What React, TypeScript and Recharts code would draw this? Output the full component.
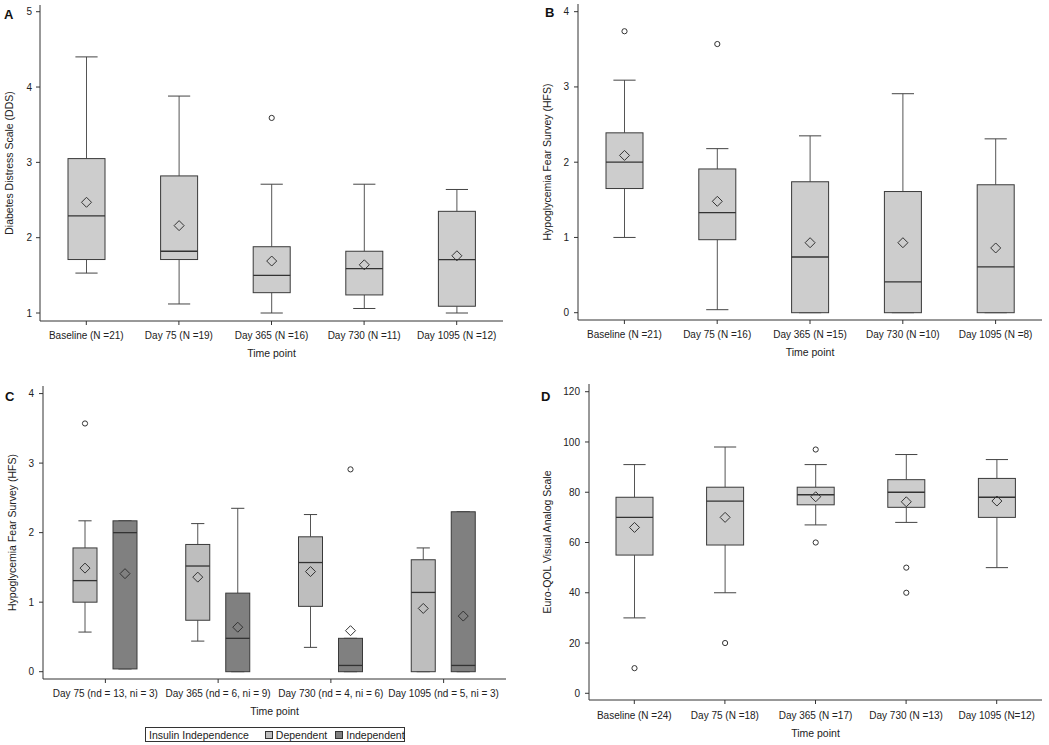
import React from "react";
import { ComposedChart, Bar, XAxis, YAxis, Legend } from "recharts";

const FONT = "'Liberation Sans', Arial, Helvetica, sans-serif";

// ---- Panel A: Diabetes Distress Scale ----
const catsA = ["Baseline (N =21)", "Day 75 (N =19)", "Day 365 (N =16)", "Day 730 (N =11)", "Day 1095 (N =12)"];
const minA = [1.53, 1.12, 1.0, 1.06, 1.0];
const q1A = [1.71, 1.71, 1.27, 1.24, 1.09];
const medA = [2.29, 1.82, 1.5, 1.59, 1.71];
const q3A = [3.05, 2.82, 1.88, 1.82, 2.35];
const maxA = [4.4, 3.88, 2.71, 2.71, 2.64];
const meanA = [2.47, 2.16, 1.69, 1.64, 1.76];
const outA = [[], [], [3.59], [], []];

// ---- Panel B: Hypoglycemia Fear Survey ----
const catsB = ["Baseline (N =21)", "Day 75 (N =16)", "Day 365 (N =15)", "Day 730 (N =10)", "Day 1095 (N =8)"];
const minB = [1.0, 0.04, 0, 0, 0];
const q1B = [1.65, 0.97, 0, 0, 0];
const medB = [2.0, 1.33, 0.74, 0.41, 0.61];
const q3B = [2.39, 1.91, 1.74, 1.61, 1.7];
const maxB = [3.09, 2.18, 2.35, 2.91, 2.31];
const meanB = [2.09, 1.48, 0.93, 0.93, 0.86];
const outB = [[3.74], [3.57], [], [], []];

// ---- Panel C: HFS by insulin independence ----
const catsC = ["Day 75 (nd = 13, ni = 3)", "Day 365 (nd = 6, ni = 9)", "Day 730 (nd = 4, ni = 6)", "Day 1095 (nd = 5, ni = 3)"];
const minCd = [0.57, 0.44, 0.35, 0];
const q1Cd = [1.0, 0.74, 0.94, 0];
const medCd = [1.31, 1.52, 1.57, 1.14];
const q3Cd = [1.78, 1.83, 1.94, 1.61];
const maxCd = [2.17, 2.13, 2.26, 1.78];
const meanCd = [1.49, 1.36, 1.44, 0.91];
const outCd = [[3.57], [], [], []];
const minCi = [0.04, 0, 0, 0];
const q1Ci = [0.04, 0, 0, 0];
const medCi = [2.0, 0.48, 0.09, 0.09];
const q3Ci = [2.17, 1.13, 0.48, 2.3];
const maxCi = [2.17, 2.35, 0.48, 2.3];
const meanCi = [1.41, 0.64, 0.59, 0.8];
const outCi = [[], [], [2.91], []];

// ---- Panel D: Euro-QOL VAS ----
const catsD = ["Baseline (N =24)", "Day 75 (N =18)", "Day 365 (N =17)", "Day 730 (N =13)", "Day 1095 (N=12)"];
const minD = [30, 40, 67, 68, 50];
const q1D = [55, 59, 75, 74, 70];
const medD = [70, 76.5, 79, 80, 78];
const q3D = [78, 82, 82, 85, 85.5];
const maxD = [91, 98, 91, 95, 93];
const meanD = [66, 70, 78.2, 76.2, 76.5];
const outD = [[10], [20], [97, 60], [50, 40], []];

type BoxStats = { min: number; q1: number; med: number; q3: number; max: number; mean: number; out: number[]; lo: number; hi: number };

function makeBoxes(mins: number[], q1s: number[], meds: number[], q3s: number[], maxs: number[], means: number[], outs: number[][]): BoxStats[] {
  return mins.map((min, i) => {
    const out = outs[i];
    return {
      min, q1: q1s[i], med: meds[i], q3: q3s[i], max: maxs[i], mean: means[i], out,
      lo: Math.min(min, ...out),
      hi: Math.max(maxs[i], ...out),
    };
  });
}

function buildRows(cats: string[], series: Record<string, BoxStats[]>) {
  return cats.map((name, i) => {
    const row: any = { name };
    Object.keys(series).forEach((k) => {
      const b = series[k][i];
      row[k] = b;
      row[k + "Range"] = [b.lo, b.hi];
    });
    return row;
  });
}

const rowsA = buildRows(catsA, { box: makeBoxes(minA, q1A, medA, q3A, maxA, meanA, outA) });
const rowsB = buildRows(catsB, { box: makeBoxes(minB, q1B, medB, q3B, maxB, meanB, outB) });
const rowsC = buildRows(catsC, {
  dep: makeBoxes(minCd, q1Cd, medCd, q3Cd, maxCd, meanCd, outCd),
  ind: makeBoxes(minCi, q1Ci, medCi, q3Ci, maxCi, meanCi, outCi),
});
const rowsD = buildRows(catsD, { box: makeBoxes(minD, q1D, medD, q3D, maxD, meanD, outD) });

// box drawn inside the bar that spans [lo, hi]; other values placed on the same scale
function BoxShape(props: any) {
  const { x, y, width, height, payload, boxKey, fill, capRatio } = props;
  const b: BoxStats = payload[boxKey];
  const top = Math.min(y, y + height);
  const bottom = Math.max(y, y + height);
  const py = (v: number) => bottom - ((v - b.lo) / (b.hi - b.lo)) * (bottom - top);
  const cx = x + width / 2;
  const cap = width * capRatio;
  const edge = "#3a3a3a";
  const d = 5;
  const my = py(b.mean);
  return (
    <g>
      <line x1={cx} x2={cx} y1={py(b.max)} y2={py(b.q3)} stroke="#555" />
      <line x1={cx} x2={cx} y1={py(b.q1)} y2={py(b.min)} stroke="#555" />
      <line x1={cx - cap / 2} x2={cx + cap / 2} y1={py(b.max)} y2={py(b.max)} stroke="#444" />
      <line x1={cx - cap / 2} x2={cx + cap / 2} y1={py(b.min)} y2={py(b.min)} stroke="#444" />
      <rect x={x} y={py(b.q3)} width={width} height={Math.max(py(b.q1) - py(b.q3), 0.5)} fill={fill} stroke={edge} />
      <line x1={x} x2={x + width} y1={py(b.med)} y2={py(b.med)} stroke="#333" strokeWidth={1.3} />
      <polygon points={`${cx - d},${my} ${cx},${my - d} ${cx + d},${my} ${cx},${my + d}`} fill="none" stroke="#333" />
      {b.out.map((o, i) => (
        <circle key={i} cx={cx} cy={py(o)} r={2.6} fill="#fff" stroke="#333" />
      ))}
    </g>
  );
}

function InsulinLegend(props: any) {
  const items = props.payload || [];
  return (
    <div style={{ display: "flex", alignItems: "center", border: "1px solid #333", height: 13, padding: "0 3px", fontFamily: FONT, fontSize: 10.5, color: "#222", background: "#fff", whiteSpace: "nowrap" }}>
      <span style={{ marginRight: 16 }}>Insulin Independence</span>
      {items.map((it: any, i: number) => (
        <span key={i} style={{ display: "flex", alignItems: "center", marginRight: i === items.length - 1 ? 0 : 8 }}>
          <span style={{ width: 6, height: 6, border: "1px solid #333", background: it.color, marginRight: 3 }} />
          {it.value}
        </span>
      ))}
    </div>
  );
}

type SeriesCfg = { key: string; fill: string; name: string };

function Panel(p: {
  left: number; top: number; width: number; height: number;
  margin: { top: number; right: number; bottom: number; left: number };
  yWidth: number; xHeight: number; domain: [number, number]; ticks: number[];
  yLabel: string; yLabelOffset: number; xLabelOffset: number; xTickMargin: number; yTickMargin: number;
  rows: any[]; series: SeriesCfg[]; barSize: number; barGap?: number; capRatio: number; legend?: boolean; xPad?: number;
}) {
  const tickStyle = { fontSize: 10, fill: "#222", fontFamily: FONT };
  const pad = p.xPad ?? 0;
  return (
    <div style={{ position: "absolute", left: p.left, top: p.top, width: p.width, height: p.height }}>
      <ComposedChart width={p.width} height={p.height} data={p.rows} margin={p.margin} barGap={p.barGap ?? 4}>
        <XAxis
          dataKey="name"
          type="category"
          interval={0}
          height={p.xHeight}
          padding={{ left: pad, right: pad }}
          tickSize={4}
          tickMargin={p.xTickMargin}
          tick={tickStyle}
          axisLine={{ stroke: "#333" }}
          tickLine={{ stroke: "#333" }}
          label={{ value: "Time point", position: "insideBottom", offset: p.xLabelOffset, style: { fontSize: 10.5, fill: "#222", fontFamily: FONT } }}
        />
        {/* top and right frame lines */}
        <XAxis xAxisId="top" dataKey="name" orientation="top" height={0} tick={false} tickLine={false} axisLine={{ stroke: "#333" }} />
        <YAxis
          yAxisId="right"
          orientation="right"
          width={0}
          type="number"
          domain={p.domain}
          allowDataOverflow
          tick={false}
          tickLine={false}
          axisLine={{ stroke: "#333" }}
        />
        <YAxis
          type="number"
          domain={p.domain}
          ticks={p.ticks}
          allowDataOverflow
          width={p.yWidth}
          tickSize={4}
          tickMargin={p.yTickMargin}
          tick={tickStyle}
          axisLine={{ stroke: "#333" }}
          tickLine={{ stroke: "#333" }}
          label={{ value: p.yLabel, angle: -90, position: "insideLeft", offset: p.yLabelOffset, style: { textAnchor: "middle", fontSize: 10.5, fill: "#222", fontFamily: FONT } }}
        />
        {p.series.map((s) => (
          <Bar
            key={s.key}
            dataKey={s.key + "Range"}
            name={s.name}
            fill={s.fill}
            barSize={p.barSize}
            legendType="square"
            isAnimationActive={false}
            shape={(sp: any) => <BoxShape {...sp} boxKey={s.key} fill={s.fill} capRatio={p.capRatio} />}
          />
        ))}
        {p.legend && (
          <Legend
            layout="horizontal"
            verticalAlign="middle"
            align="center"
            wrapperStyle={{ left: 145, top: 357, width: 260, height: 15 }}
            content={(lp: any) => <InsulinLegend {...lp} />}
          />
        )}
      </ComposedChart>
    </div>
  );
}

const letterStyle: React.CSSProperties = { position: "absolute", fontFamily: FONT, fontWeight: "bold", fontSize: 13, lineHeight: "13px", color: "#111" };

export default function App() {
  return (
    <div style={{ position: "absolute", left: 0, top: 0, width: 1049, height: 745, background: "#fff" }}>
      <Panel
        left={0} top={0} width={525} height={370}
        margin={{ top: 5, right: 22, bottom: 0, left: 0 }}
        yWidth={40} xHeight={49} domain={[0.894, 5.089]} ticks={[1, 2, 3, 4, 5]}
        yLabel="Diabetes Distress Scale (DDS)" yLabelOffset={9} xLabelOffset={13} xTickMargin={7} yTickMargin={4}
        rows={rowsA} series={[{ key: "box", fill: "#cdcdcd", name: "box" }]} barSize={37} capRatio={0.6}
      />
      <Panel
        left={525} top={0} width={524} height={370}
        margin={{ top: 4, right: 7, bottom: 0, left: 0 }}
        yWidth={53} xHeight={50} domain={[-0.097, 4.102]} ticks={[0, 1, 2, 3, 4]}
        yLabel="Hypoglycemia Fear Survey (HFS)" yLabelOffset={22} xLabelOffset={14} xTickMargin={7} yTickMargin={5}
        rows={rowsB} series={[{ key: "box", fill: "#cdcdcd", name: "box" }]} barSize={37} capRatio={0.6}
      />
      <Panel
        left={0} top={370} width={525} height={375}
        margin={{ top: 16, right: 19, bottom: 17, left: 0 }}
        yWidth={43} xHeight={49} domain={[-0.105, 4.109]} ticks={[0, 1, 2, 3, 4]}
        yLabel="Hypoglycemia Fear Survey (HFS)" yLabelOffset={12} xLabelOffset={13} xTickMargin={7} yTickMargin={5}
        rows={rowsC}
        series={[
          { key: "dep", fill: "#bebebe", name: "Dependent" },
          { key: "ind", fill: "#808080", name: "Independent" },
        ]}
        barSize={24} barGap={16} capRatio={0.55} legend xPad={6}
      />
      <Panel
        left={525} top={370} width={524} height={375}
        margin={{ top: 14, right: 7, bottom: 0, left: 0 }}
        yWidth={64} xHeight={45} domain={[-2.67, 123.07]} ticks={[0, 20, 40, 60, 80, 100, 120]}
        yLabel="Euro-QOL Visual Analog Scale" yLabelOffset={22} xLabelOffset={8} xTickMargin={8} yTickMargin={5}
        rows={rowsD} series={[{ key: "box", fill: "#cdcdcd", name: "box" }]} barSize={37} capRatio={0.6}
      />
      <div style={{ ...letterStyle, left: 4, top: 7.6 }}>A</div>
      <div style={{ ...letterStyle, left: 545, top: 6.3 }}>B</div>
      <div style={{ ...letterStyle, left: 5, top: 390.3 }}>C</div>
      <div style={{ ...letterStyle, left: 541, top: 390.3 }}>D</div>
    </div>
  );
}
